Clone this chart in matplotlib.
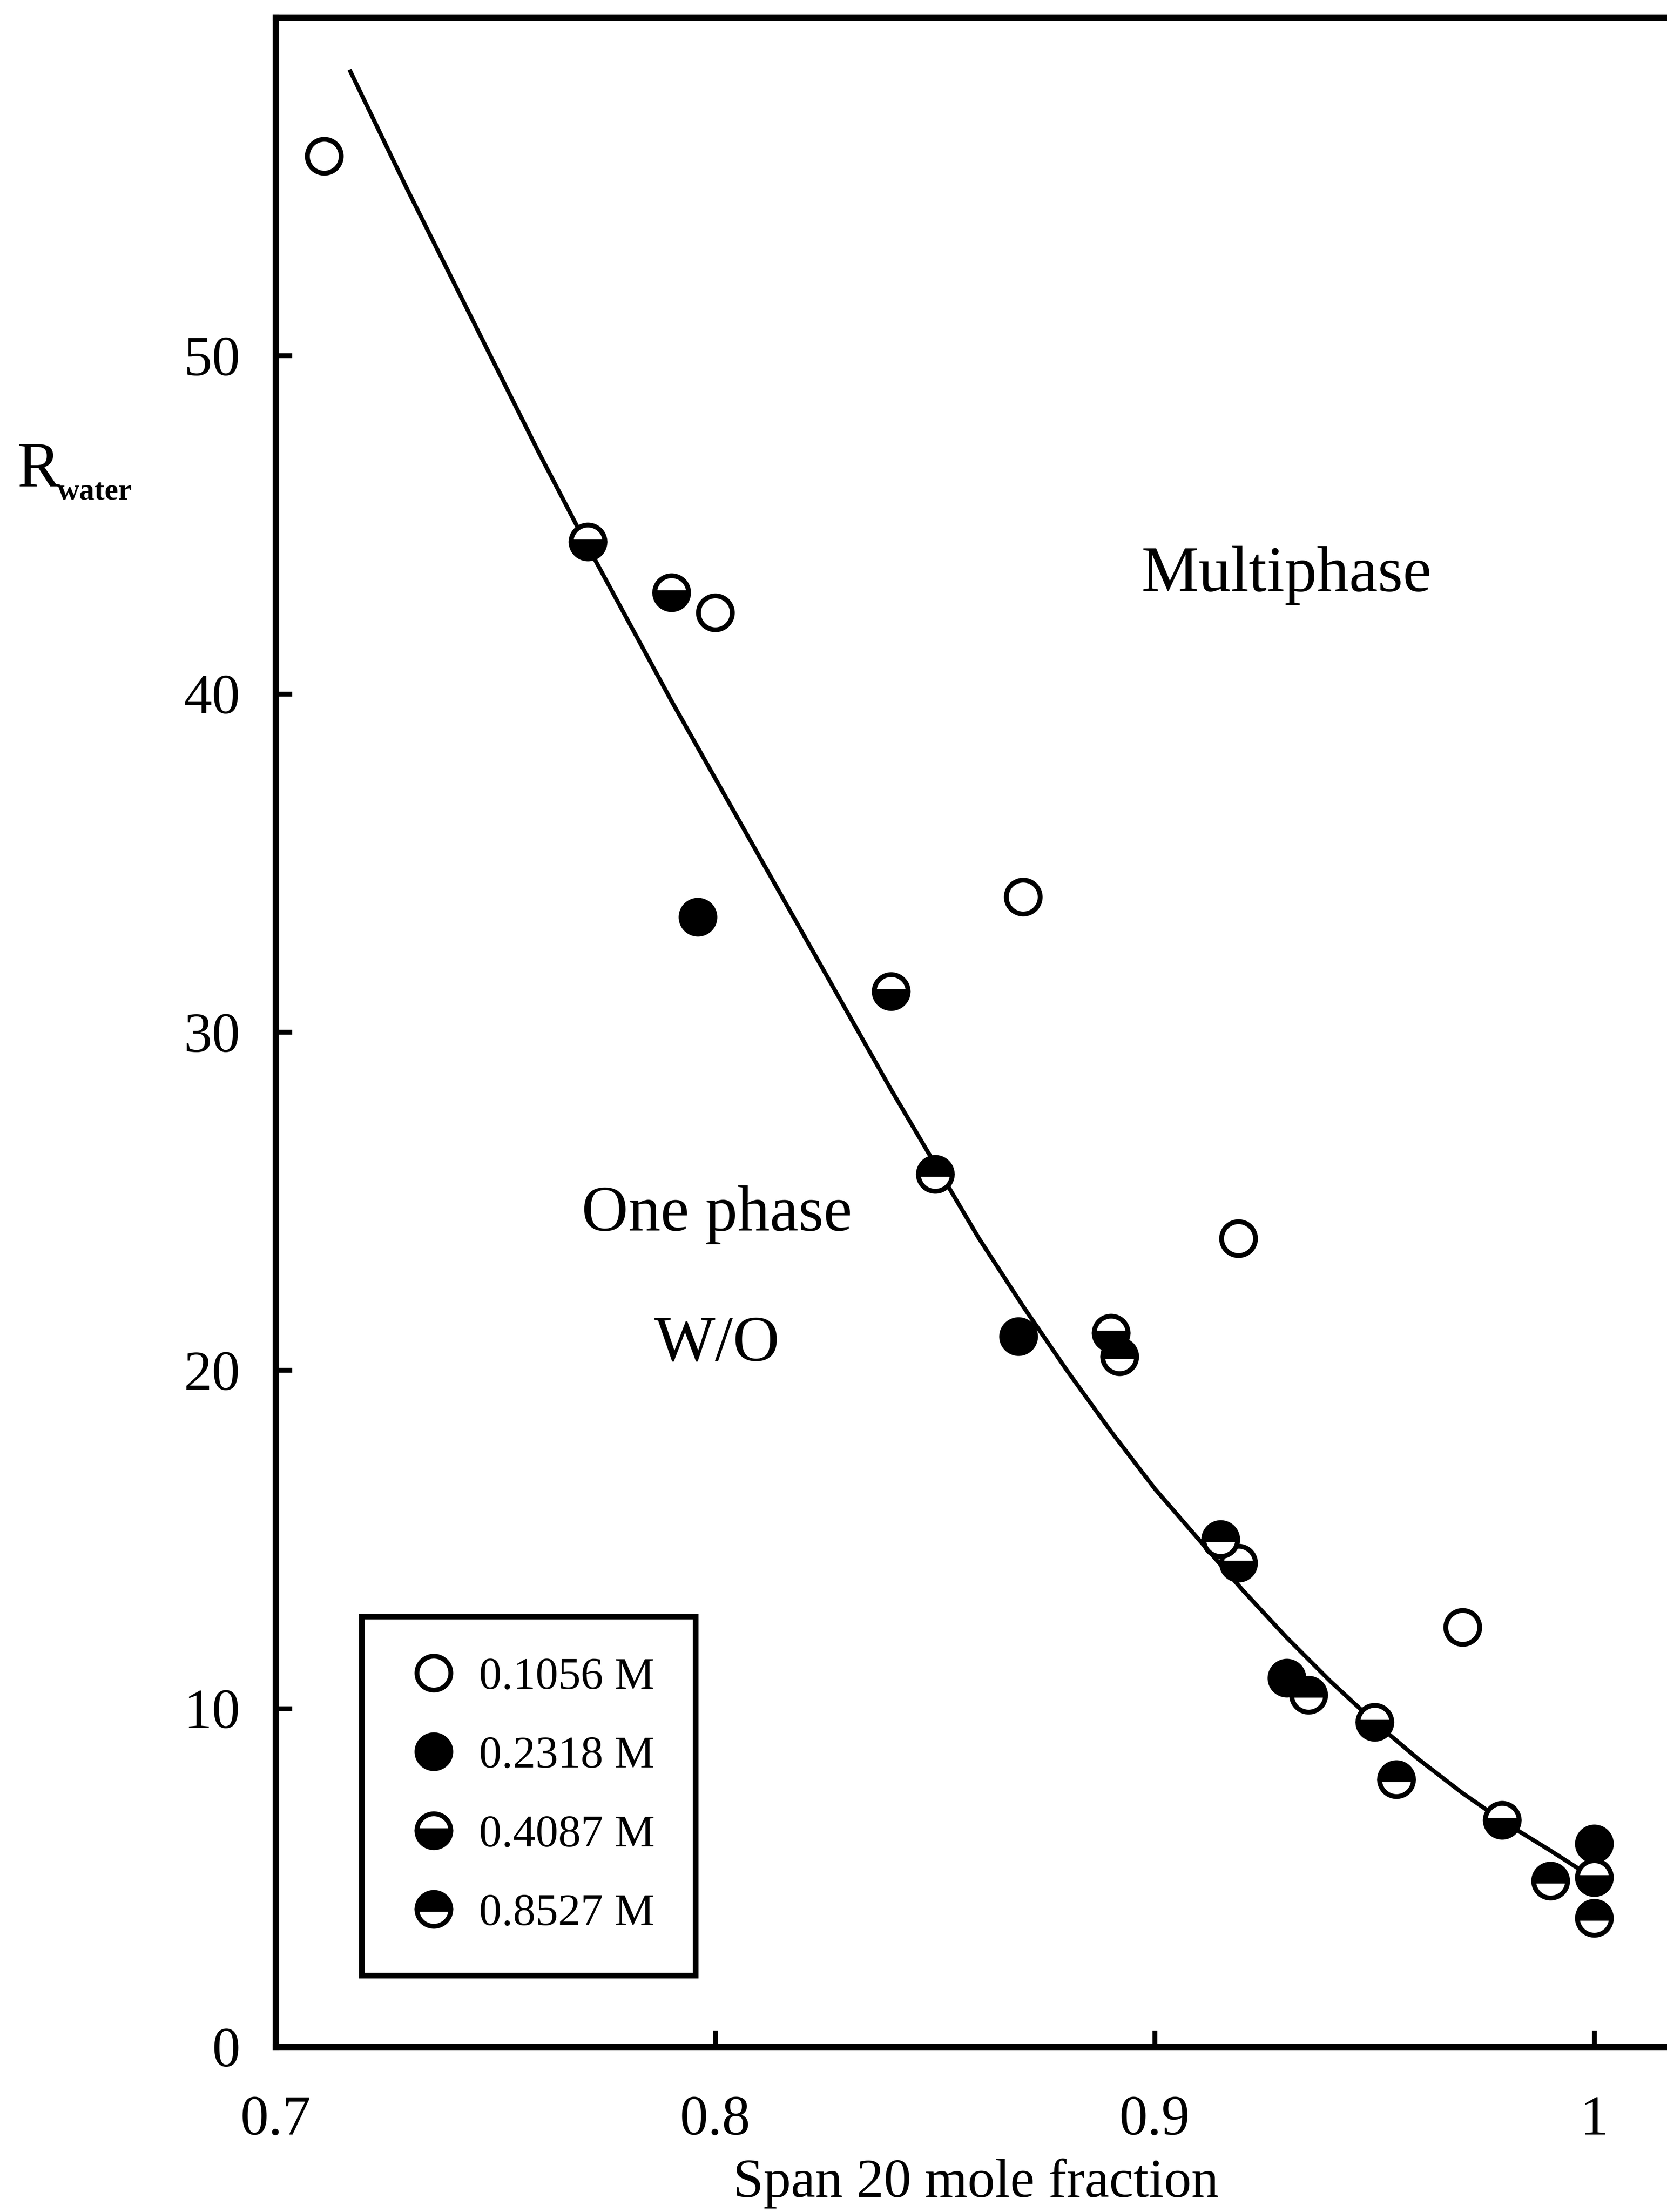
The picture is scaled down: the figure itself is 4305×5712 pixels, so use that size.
"""Diagrama de fases: R_water frente a la fraccion molar de Span 20"""

import matplotlib
matplotlib.use("Agg")
import matplotlib.pyplot as plt
from matplotlib.lines import Line2D

plt.rcParams["font.family"] = ["Liberation Serif", "DejaVu Serif"]

# puntos experimentales por concentracion
x_1056 = [0.711, 0.800, 0.870, 0.919, 0.970]
y_1056 = [55.9, 42.4, 34.0, 23.9, 12.4]

x_2318 = [0.796, 0.869, 0.930, 1.000]
y_2318 = [33.4, 21.0, 10.9, 6.0]

x_4087 = [0.771, 0.790, 0.840, 0.890, 0.919, 0.950, 0.979, 1.000]
y_4087 = [44.5, 43.0, 31.2, 21.1, 14.3, 9.6, 6.7, 5.0]

x_8527 = [0.850, 0.892, 0.915, 0.935, 0.955, 0.990, 1.000]
y_8527 = [25.8, 20.4, 15.0, 10.4, 7.9, 4.9, 3.8]

# frontera entre una fase y multifase
x_curve = [0.717, 0.73, 0.74, 0.75, 0.76, 0.77, 0.78, 0.79, 0.80, 0.81,
           0.82, 0.83, 0.84, 0.85, 0.86, 0.87, 0.88, 0.89, 0.90, 0.91,
           0.92, 0.93, 0.94, 0.95, 0.96, 0.97, 0.98, 0.99, 0.996]
y_curve = [58.4, 54.9, 52.3, 49.7, 47.1, 44.6, 42.2, 39.8, 37.5, 35.2,
           32.9, 30.6, 28.3, 26.1, 23.9, 21.9, 20.0, 18.2, 16.5, 15.0,
           13.5, 12.1, 10.8, 9.6, 8.5, 7.5, 6.6, 5.8, 5.3]

x_ticks = [0.7, 0.8, 0.9, 1.0]
x_labels = ["0.7", "0.8", "0.9", "1"]
y_ticks = [0, 10, 20, 30, 40, 50]

W, H = 4305, 5712
fig = plt.figure(figsize=(W / 300, H / 300), dpi=300)
ax = fig.add_axes([712 / W, (H - 5285) / H, 3632 / W, 5240 / H])

ax.plot(x_curve, y_curve, color="black", lw=2.6, zorder=2)

mk = dict(linestyle="none", marker="o", markersize=21, markeredgewidth=3,
          markeredgecolor="black", zorder=3)
series = [
    (x_1056, y_1056, dict(markerfacecolor="white"), "0.1056 M"),
    (x_2318, y_2318, dict(markerfacecolor="black"), "0.2318 M"),
    (x_4087, y_4087, dict(fillstyle="bottom", markerfacecolor="black",
                          markerfacecoloralt="white"), "0.4087 M"),
    (x_8527, y_8527, dict(fillstyle="top", markerfacecolor="black",
                          markerfacecoloralt="white"), "0.8527 M"),
]
handles = []
for xs, ys, style, label in series:
    ax.plot(xs, ys, **mk, **style)
    handles.append(Line2D([], [], **mk, **style, label=label))

ax.set_xlim(0.7, 1.02)
ax.set_ylim(0, 60)
ax.set_xticks(x_ticks)
ax.set_xticklabels(x_labels)
ax.set_yticks(y_ticks)
ax.tick_params(direction="in", length=10, width=3, labelsize=35)
ax.tick_params(axis="x", pad=30)
ax.tick_params(axis="y", pad=22)

for side in ["left", "bottom", "top"]:
    ax.spines[side].set_linewidth(4)
ax.spines["right"].set_visible(False)

ax.text(0.930, 43.5, "Multiphase", fontsize=40, ha="center", va="center")
ax.text(0.8004, 24.6, "One phase", fontsize=40, ha="center", va="center")
ax.text(0.8004, 20.75, "W/O", fontsize=40, ha="center", va="center")

leg = ax.legend(handles=handles, loc="upper left", bbox_to_anchor=(0.061, 0.212),
                borderaxespad=0, fontsize=28, numpoints=1, handlelength=1.4,
                handletextpad=0.3, labelspacing=0.83, borderpad=0.9,
                fancybox=False, framealpha=1)
leg.get_frame().set_edgecolor("black")
leg.get_frame().set_linewidth(3.5)

# etiqueta del eje y: R con subindice "water"
fig.text(44 / W, 1 - 1256 / H, "R", fontsize=40, ha="left", va="baseline")
fig.text(148 / W, 1 - 1290 / H, "water", fontsize=19, fontweight="bold",
         ha="left", va="baseline")
fig.text(2520 / W, 1 - 5638 / H, "Span 20 mole fraction", fontsize=34,
         ha="center", va="center")

fig.savefig("out.png", dpi=300)
plt.close(fig)
